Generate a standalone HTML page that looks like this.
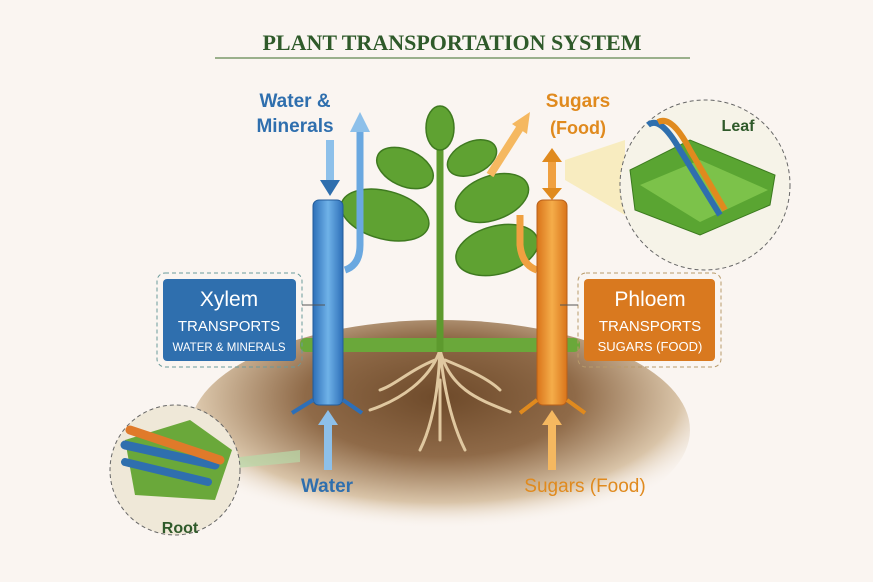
<!DOCTYPE html>
<html><head><meta charset="utf-8"><style>
html,body{margin:0;padding:0;background:#faf5f1;}
svg{display:block;font-family:"Liberation Sans",sans-serif;}
</style></head><body>
<svg width="873" height="582" viewBox="0 0 873 582" xmlns="http://www.w3.org/2000/svg">
<defs>
<radialGradient id="soil" cx="50%" cy="35%" r="60%">
<stop offset="0" stop-color="#6e4a2a"/><stop offset="0.45" stop-color="#8f6a48"/><stop offset="0.8" stop-color="#d9c4a8"/><stop offset="1" stop-color="#faf5f1" stop-opacity="0"/>
</radialGradient>
<linearGradient id="blue" x1="0" x2="1"><stop offset="0" stop-color="#2d6fb8"/><stop offset="0.5" stop-color="#6fb2e8"/><stop offset="1" stop-color="#2d6fb8"/></linearGradient>
<linearGradient id="orange" x1="0" x2="1"><stop offset="0" stop-color="#d9741a"/><stop offset="0.5" stop-color="#f5ad4a"/><stop offset="1" stop-color="#d9741a"/></linearGradient>
</defs>
<rect width="873" height="582" fill="#faf5f1"/>
<text x="452" y="50" text-anchor="middle" font-size="22" font-weight="bold" fill="#2f5a2a" font-family="Liberation Serif,serif">PLANT TRANSPORTATION SYSTEM</text>
<line x1="215" y1="58" x2="690" y2="58" stroke="#7a9a6a" stroke-width="1.5"/>
<!-- soil -->
<ellipse cx="440" cy="430" rx="250" ry="110" fill="url(#soil)"/>
<rect x="300" y="338" width="280" height="14" rx="6" fill="#6aa83a"/>
<!-- roots -->
<g stroke="#e0c8a0" stroke-width="3" fill="none" stroke-linecap="round">
<path d="M440 350 C430 380 400 400 370 410"/><path d="M440 350 C450 390 480 400 510 412"/>
<path d="M440 350 C438 400 430 430 420 450"/><path d="M440 350 C445 400 455 430 465 450"/>
<path d="M435 360 C410 370 395 385 380 390"/><path d="M445 360 C470 370 490 380 500 390"/>
<path d="M440 380 L440 440"/>
</g>
<!-- stem -->
<path d="M440 120 L440 352" stroke="#5d9a2e" stroke-width="7"/>
<g fill="#5fa232" stroke="#3f7a20" stroke-width="1.5">
<ellipse cx="440" cy="128" rx="14" ry="22"/>
<ellipse cx="405" cy="168" rx="30" ry="18" transform="rotate(25 405 168)"/>
<ellipse cx="472" cy="158" rx="26" ry="16" transform="rotate(-25 472 158)"/>
<ellipse cx="385" cy="215" rx="45" ry="24" transform="rotate(15 385 215)"/>
<ellipse cx="492" cy="198" rx="38" ry="22" transform="rotate(-20 492 198)"/>
<ellipse cx="497" cy="250" rx="42" ry="24" transform="rotate(-15 497 250)"/>
</g>
<!-- xylem -->
<text x="295" y="107" text-anchor="middle" font-size="19" font-weight="bold" fill="#2f6fae">Water &amp;</text>
<text x="295" y="132" text-anchor="middle" font-size="19" font-weight="bold" fill="#2f6fae">Minerals</text>
<path d="M330 140 L330 185" stroke="#8dc0ea" stroke-width="8"/><path d="M320 180 L340 180 L330 196Z" fill="#2f6fae"/>
<path d="M345 270 Q360 265 360 245 L360 130" stroke="#6aa8e0" stroke-width="7" fill="none"/>
<path d="M350 132 L360 112 L370 132Z" fill="#8dc0ea"/>
<rect x="313" y="200" width="30" height="205" rx="6" fill="url(#blue)" stroke="#235c9a"/>
<path d="M313 400 L292 413 M343 400 L362 413" stroke="#2d6fb8" stroke-width="4"/>
<path d="M328 470 L328 420" stroke="#8dc0ea" stroke-width="8"/><path d="M318 425 L338 425 L328 410Z" fill="#8dc0ea"/>
<rect x="157" y="273" width="145" height="94" rx="8" fill="none" stroke="#6a9a9a" stroke-dasharray="4 3"/>
<rect x="163" y="279" width="133" height="82" rx="4" fill="#2f6fae"/>
<text x="229" y="306" text-anchor="middle" font-size="21" fill="#fff">Xylem</text>
<text x="229" y="331" text-anchor="middle" font-size="15" fill="#fff">TRANSPORTS</text>
<text x="229" y="351" text-anchor="middle" font-size="11.5" fill="#fff">WATER &amp; MINERALS</text>
<line x1="302" y1="305" x2="325" y2="305" stroke="#555"/>
<text x="327" y="492" text-anchor="middle" font-size="19" font-weight="bold" fill="#2f6fae">Water</text>
<!-- phloem -->
<text x="578" y="107" text-anchor="middle" font-size="19" font-weight="bold" fill="#e08a1e">Sugars</text>
<text x="578" y="134" text-anchor="middle" font-size="18" font-weight="bold" fill="#e08a1e">(Food)</text>
<path d="M490 175 L520 128" stroke="#f5b860" stroke-width="8"/><path d="M512 124 L530 112 L527 134Z" fill="#f5b860"/>
<path d="M552 160 L552 190" stroke="#f0a040" stroke-width="8"/><path d="M542 162 L552 148 L562 162Z M542 188 L552 200 L562 188Z" fill="#e08a1e"/>
<path d="M537 270 Q522 265 520 245 L520 215" stroke="#f0a040" stroke-width="7" fill="none"/>
<rect x="537" y="200" width="30" height="205" rx="6" fill="url(#orange)" stroke="#b8601a"/>
<path d="M537 400 L520 413 M567 400 L585 413" stroke="#e08a1e" stroke-width="4"/>
<path d="M552 470 L552 420" stroke="#f5b860" stroke-width="8"/><path d="M542 425 L562 425 L552 410Z" fill="#f5b860"/>
<rect x="578" y="273" width="143" height="94" rx="8" fill="none" stroke="#b89a6a" stroke-dasharray="4 3"/>
<rect x="584" y="279" width="131" height="82" rx="4" fill="#d9791f"/>
<text x="650" y="306" text-anchor="middle" font-size="21" fill="#fff">Phloem</text>
<text x="650" y="331" text-anchor="middle" font-size="15" fill="#fff">TRANSPORTS</text>
<text x="650" y="351" text-anchor="middle" font-size="13" fill="#fff">SUGARS (FOOD)</text>
<line x1="560" y1="305" x2="578" y2="305" stroke="#555"/>
<text x="585" y="492" text-anchor="middle" font-size="19" fill="#e08a1e">Sugars (Food)</text>
<!-- leaf circle -->
<path d="M565 160 L625 140 L625 215 L565 180Z" fill="#f7e6a0" opacity="0.6"/>
<circle cx="705" cy="185" r="85" fill="#f6f3e8" stroke="#666" stroke-dasharray="4 3"/>
<path d="M630 170 L690 140 L775 175 L770 205 L700 235 L635 210Z" fill="#5aa532" stroke="#3b7a1e"/>
<path d="M640 185 L700 160 L768 190 L700 222Z" fill="#7cc24a"/>
<path d="M648 125 Q660 115 680 150 L720 215" stroke="#2f6fae" stroke-width="6" fill="none"/>
<path d="M658 122 Q672 115 690 150 L725 210" stroke="#e08a1e" stroke-width="6" fill="none"/>
<text x="738" y="131" text-anchor="middle" font-size="16" font-weight="bold" fill="#2f5a2a">Leaf</text>
<!-- root circle -->
<path d="M215 460 L300 450 L300 462 L215 470Z" fill="#b8d8a8" opacity="0.7"/>
<circle cx="175" cy="470" r="65" fill="#efe8d8" stroke="#666" stroke-dasharray="4 3"/>
<path d="M125 440 L190 420 L232 450 L215 500 L135 495Z" fill="#6aa83a"/>
<path d="M125 445 L215 465" stroke="#2f6fae" stroke-width="9" stroke-linecap="round"/>
<path d="M130 430 L220 460" stroke="#e07a2a" stroke-width="9" stroke-linecap="round"/>
<path d="M125 462 L208 482" stroke="#2f6fae" stroke-width="8" stroke-linecap="round"/>
<text x="180" y="533" text-anchor="middle" font-size="16" font-weight="bold" fill="#2f5a2a">Root</text>
</svg>
</body></html>
